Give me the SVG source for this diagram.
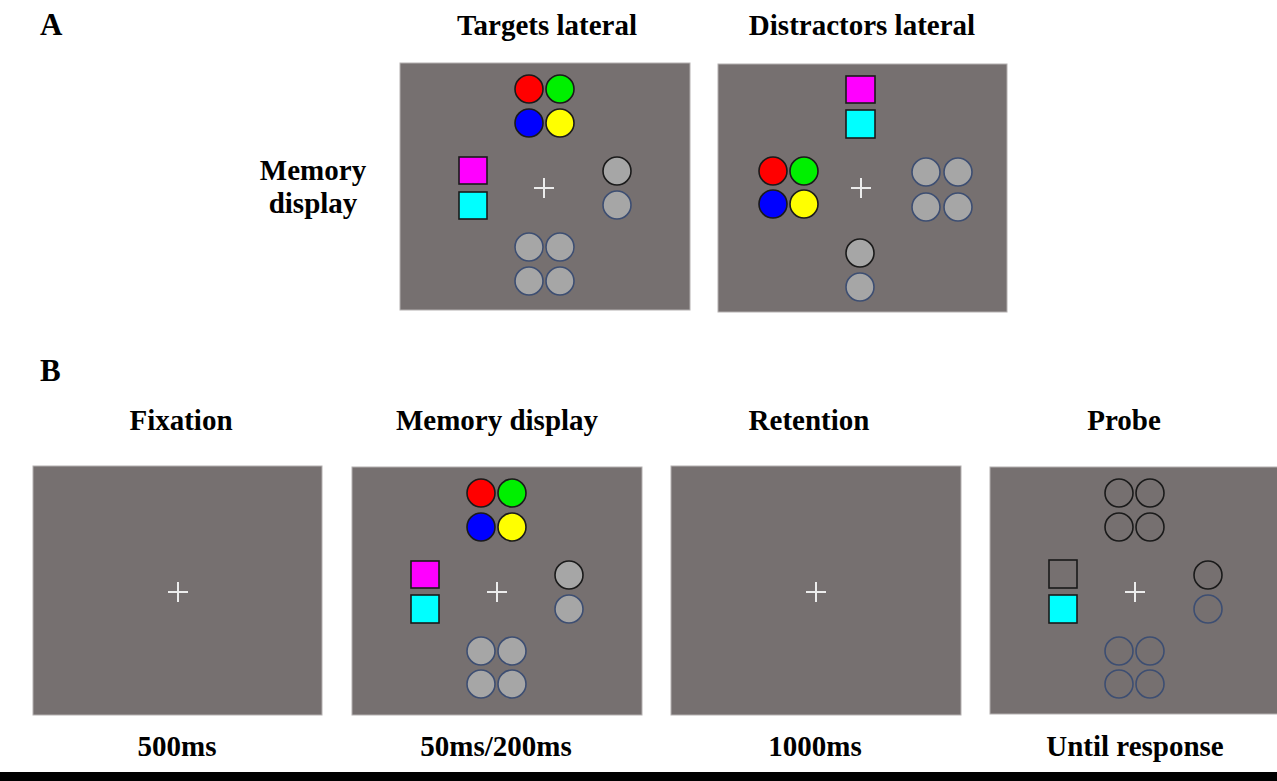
<svg xmlns="http://www.w3.org/2000/svg" width="1277" height="781" viewBox="0 0 1277 781">
<style>
.lbl{font-family:"Liberation Serif","Times New Roman",serif;font-weight:bold;font-size:29px;fill:#000;text-anchor:middle}
.big{font-family:"Liberation Serif","Times New Roman",serif;font-weight:bold;font-size:31px;fill:#000}
.pan{fill:#767070;stroke:#b4b0b0;stroke-width:1}
.cr{stroke:#ececec;stroke-width:2;fill:none}
.k{stroke:#1a1a1a;stroke-width:1.6}
.g{fill:#a6a6a6}
.gb{fill:#a6a6a6;stroke:#3d4e72;stroke-width:1.6}
.gk{fill:#a6a6a6;stroke:#1a1a1a;stroke-width:1.6}
.ob{fill:none;stroke:#3d4e72;stroke-width:1.6}
.ok{fill:none;stroke:#1a1a1a;stroke-width:1.6}
</style>
<rect x="0" y="0" width="1277" height="781" fill="#fff"/>

<g id="labels">
<text class="big" x="40" y="35">A</text>
<text class="big" x="40" y="381">B</text>
<text class="lbl" x="547" y="35">Targets lateral</text>
<text class="lbl" x="862" y="35">Distractors lateral</text>
<text class="lbl" x="313" y="180">Memory</text>
<text class="lbl" x="313" y="213">display</text>
<text class="lbl" x="181" y="430">Fixation</text>
<text class="lbl" x="497" y="430">Memory display</text>
<text class="lbl" x="809" y="430">Retention</text>
<text class="lbl" x="1124" y="430">Probe</text>
<text class="lbl" x="177" y="756">500ms</text>
<text class="lbl" x="496" y="756">50ms/200ms</text>
<text class="lbl" x="815" y="756">1000ms</text>
<text class="lbl" x="1135" y="756">Until response</text>
</g>

<g id="panel-a-targets">
<rect class="pan" x="400" y="63" width="290" height="247"/>
<path class="cr" d="M534 188H554M544 178V198"/>
<circle class="k" cx="529" cy="89" r="14" fill="#ff0000"/>
<circle class="k" cx="560" cy="89" r="14" fill="#00f000"/>
<circle class="k" cx="529" cy="123" r="14" fill="#0000ff"/>
<circle class="k" cx="560" cy="123" r="14" fill="#ffff00"/>
<rect class="k" x="459" y="157" width="28" height="27" fill="#ff00ff"/>
<rect class="k" x="459" y="192" width="28" height="27" fill="#00ffff"/>
<circle class="gk" cx="617" cy="171" r="14"/>
<circle class="gb" cx="617" cy="205" r="14"/>
<circle class="gb" cx="529" cy="247" r="14"/>
<circle class="gb" cx="560" cy="247" r="14"/>
<circle class="gb" cx="529" cy="281" r="14"/>
<circle class="gb" cx="560" cy="281" r="14"/>
</g>

<g id="panel-a-distractors">
<rect class="pan" x="718" y="64" width="289" height="248"/>
<path class="cr" d="M851 188H871M861 178V198"/>
<rect class="k" x="846" y="76" width="29" height="27" fill="#ff00ff"/>
<rect class="k" x="846" y="110" width="29" height="28" fill="#00ffff"/>
<circle class="k" cx="773" cy="171" r="14" fill="#ff0000"/>
<circle class="k" cx="804" cy="171" r="14" fill="#00f000"/>
<circle class="k" cx="773" cy="204" r="14" fill="#0000ff"/>
<circle class="k" cx="804" cy="204" r="14" fill="#ffff00"/>
<circle class="gb" cx="926" cy="172" r="14"/>
<circle class="gb" cx="958" cy="172" r="14"/>
<circle class="gb" cx="926" cy="207" r="14"/>
<circle class="gb" cx="958" cy="207" r="14"/>
<circle class="gk" cx="860" cy="253" r="14"/>
<circle class="gb" cx="860" cy="287" r="14"/>
</g>

<g id="panel-b-fixation">
<rect class="pan" x="33" y="466" width="289" height="249"/>
<path class="cr" d="M168 592H188M178 582V602"/>
</g>

<g id="panel-b-memory">
<rect class="pan" x="352" y="467" width="290" height="248"/>
<path class="cr" d="M487 592H507M497 582V602"/>
<circle class="k" cx="481" cy="493" r="14" fill="#ff0000"/>
<circle class="k" cx="512" cy="493" r="14" fill="#00f000"/>
<circle class="k" cx="481" cy="527" r="14" fill="#0000ff"/>
<circle class="k" cx="512" cy="527" r="14" fill="#ffff00"/>
<rect class="k" x="411" y="561" width="28" height="27" fill="#ff00ff"/>
<rect class="k" x="411" y="595" width="28" height="28" fill="#00ffff"/>
<circle class="gk" cx="569" cy="575" r="14"/>
<circle class="gb" cx="569" cy="609" r="14"/>
<circle class="gb" cx="481" cy="651" r="14"/>
<circle class="gb" cx="512" cy="651" r="14"/>
<circle class="gb" cx="481" cy="684" r="14"/>
<circle class="gb" cx="512" cy="684" r="14"/>
</g>

<g id="panel-b-retention">
<rect class="pan" x="671" y="466" width="290" height="249"/>
<path class="cr" d="M806 592H826M816 582V602"/>
</g>

<g id="panel-b-probe">
<rect class="pan" x="990" y="467" width="288" height="247"/>
<path class="cr" d="M1125 592H1145M1135 582V602"/>
<circle class="ok" cx="1119" cy="493" r="14"/>
<circle class="ok" cx="1150" cy="493" r="14"/>
<circle class="ok" cx="1119" cy="527" r="14"/>
<circle class="ok" cx="1150" cy="527" r="14"/>
<rect class="k" x="1049" y="560" width="28" height="28" fill="none"/>
<rect class="k" x="1049" y="595" width="28" height="28" fill="#00ffff"/>
<circle class="ok" cx="1208" cy="575" r="14"/>
<circle class="ob" cx="1208" cy="609" r="14"/>
<circle class="ob" cx="1119" cy="651" r="14"/>
<circle class="ob" cx="1150" cy="651" r="14"/>
<circle class="ob" cx="1119" cy="684" r="14"/>
<circle class="ob" cx="1150" cy="684" r="14"/>
</g>

<g id="connectors"></g>

<rect x="0" y="772" width="1277" height="9" fill="#000"/>
</svg>
